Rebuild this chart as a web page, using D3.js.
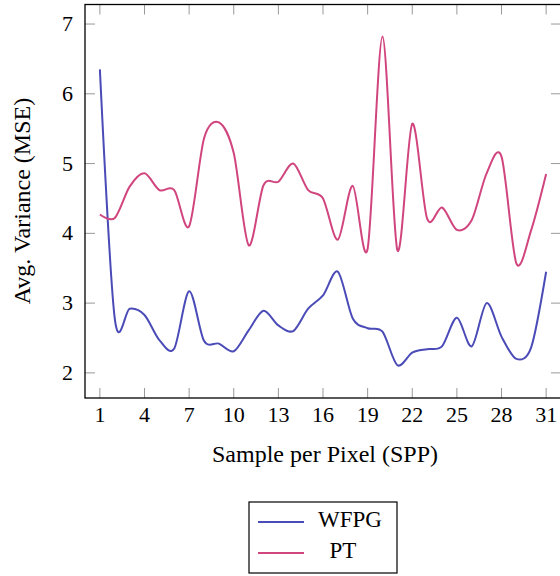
<!DOCTYPE html>
<html>
<head>
<meta charset="utf-8">
<script src="https://cdn.jsdelivr.net/npm/d3@7"></script>
<style>
  body { margin: 0; background: #fff; }
  #chart { position: relative; width: 560px; height: 576px; }
  #chart svg { position: absolute; left: 0; top: 0; }
  .label {
    position: absolute;
    font-family: 'Liberation Serif';
    white-space: nowrap;
    color: #000;
  }
</style>
</head>
<body>
<div id="chart"></div>
<script>
const spp = d3.range(1, 32)
const wfpg = [6.35, 2.78, 2.92, 2.83, 2.47, 2.35, 3.17, 2.46, 2.42, 2.31, 2.61, 2.89, 2.68, 2.6, 2.92,
  3.11, 3.45, 2.78, 2.64, 2.59, 2.11, 2.29, 2.34, 2.38, 2.79, 2.38, 3.0, 2.52, 2.2, 2.37, 3.45]
const pt = [4.27, 4.22, 4.67, 4.86, 4.62, 4.62, 4.1, 5.36, 5.59, 5.15, 3.83, 4.69, 4.74, 5.0, 4.62,
  4.5, 3.91, 4.68, 3.78, 6.82, 3.76, 5.57, 4.21, 4.37, 4.05, 4.19, 4.86, 5.1, 3.57, 4.05, 4.85]
const xTicks = [1, 4, 7, 10, 13, 16, 19, 22, 25, 28, 31]
const yTicks = [2, 3, 4, 5, 6, 7]
const seriesNames = ['WFPG', 'PT']
const colors = ['#4b4bb8', '#d1457f']

const margin = { top: 4.5, left: 85, right: -1, bottom: 178 }
const width = 560 - margin.left - margin.right
const height = 576 - margin.top - margin.bottom

const chart = d3.select('#chart')

const svg = chart
  .append('svg')
  .attr('width', 560)
  .attr('height', 576)
  .append('g')
  .attr('transform', 'translate(' + margin.left + ',' + margin.top + ')')

const xPositionScale = d3.scaleLinear().domain([0, 32]).range([0, width])
const yPositionScale = d3.scaleLinear().domain([1.64, 7.28]).range([height, 0])

const line = d3
  .line()
  .x((d, i) => xPositionScale(spp[i]))
  .y(d => yPositionScale(d))
  .curve(d3.curveCardinal.tension(0.1))

// text goes in html so the serif font is used; x/y is the baseline point in plot coords
function label(txt, x, y, size, anchor, rotate) {
  const shift = anchor === 'middle' ? '-50%' : anchor === 'end' ? '-100%' : '0'
  const div = chart.append('div').attr('class', 'label').text(txt)
    .style('font-size', size + 'px')
    .style('line-height', size + 'px')
    .style('left', (x + margin.left) + 'px')
  if (rotate) {
    // x is the centre of the rotated line box here
    div.style('top', (y + margin.top) + 'px')
      .style('transform', 'translate(-50%, -50%) rotate(-90deg)')
  } else {
    div.style('top', (y + margin.top - 0.84 * size) + 'px')
      .style('transform', 'translateX(' + shift + ')')
  }
  return div
}

// ticks (inward, on all four sides)
const tickColor = '#999'
const tickLen = 10
xTicks.forEach(t => {
  const x = xPositionScale(t)
  svg.append('line').attr('x1', x).attr('x2', x).attr('y1', height).attr('y2', height - tickLen)
    .attr('stroke', tickColor).attr('stroke-width', 1)
  svg.append('line').attr('x1', x).attr('x2', x).attr('y1', 0).attr('y2', tickLen)
    .attr('stroke', tickColor).attr('stroke-width', 1)
  label(t, x, height + 24, 22, 'middle')
})
yTicks.forEach(t => {
  const y = yPositionScale(t)
  svg.append('line').attr('x1', 0).attr('x2', tickLen).attr('y1', y).attr('y2', y)
    .attr('stroke', tickColor).attr('stroke-width', 1)
  svg.append('line').attr('x1', width).attr('x2', width - tickLen).attr('y1', y).attr('y2', y)
    .attr('stroke', tickColor).attr('stroke-width', 1)
  label(t, -12, y + 7.5, 22, 'end')
})

;[wfpg, pt].forEach((s, i) => {
  svg.append('path').datum(s).attr('d', line)
    .attr('fill', 'none').attr('stroke', colors[i]).attr('stroke-width', 2)
})

svg.append('rect').attr('x', 0).attr('y', 0).attr('width', width).attr('height', height)
  .attr('fill', 'none').attr('stroke', '#000').attr('stroke-width', 1.3)

label('Sample per Pixel (SPP)', 240, height + 64, 24, 'middle')
label('Avg. Variance (MSE)', -63, 201 - margin.top, 24, 'middle', true)

// legend
const lx = 249 - margin.left
const ly = 502 - margin.top
const textCentres = [101, 94]
svg.append('rect').attr('x', lx).attr('y', ly).attr('width', 148).attr('height', 71)
  .attr('fill', '#fff').attr('stroke', '#000').attr('stroke-width', 1.2)
seriesNames.forEach((name, i) => {
  const y = ly + 20 + i * 31
  svg.append('line').attr('x1', lx + 9).attr('x2', lx + 55).attr('y1', y).attr('y2', y)
    .attr('stroke', colors[i]).attr('stroke-width', 2)
  label(name, lx + textCentres[i], y + 5, 23, 'middle')
})
</script>
</body>
</html>
